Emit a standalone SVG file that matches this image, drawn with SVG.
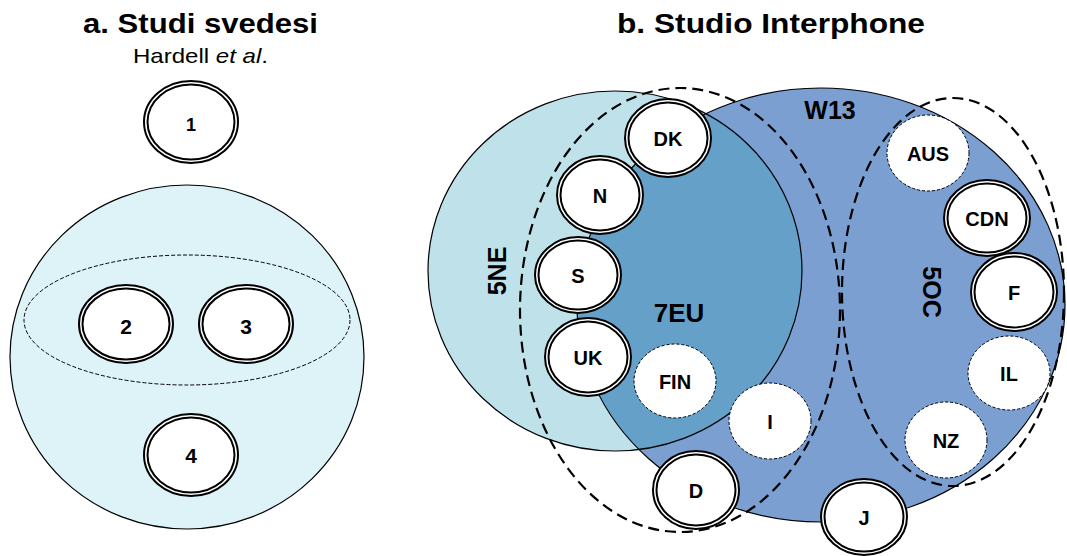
<svg xmlns="http://www.w3.org/2000/svg" width="1067" height="556" viewBox="0 0 1067 556">
<style>
text{font-family:"Liberation Sans",Arial,sans-serif;fill:#000}
.title{font-size:28px;font-weight:bold;text-anchor:middle}
.sub{font-size:21px;text-anchor:middle}
.lbl{font-size:20px;font-weight:bold;text-anchor:middle}
.num{font-size:21px;font-weight:bold;text-anchor:middle}
.grp{font-size:25px;font-weight:bold;text-anchor:middle}
.ring-o{fill:#fff;stroke:#000;stroke-width:2}
.ring-i{fill:none;stroke:#000;stroke-width:2}
.dnode{fill:#fff;stroke:#000;stroke-width:1;stroke-dasharray:3 2}
.region{stroke:#000;stroke-width:1.2}
.bigdash{fill:none;stroke:#000;stroke-width:2.2;stroke-dasharray:11 6}
</style>
<defs>
<clipPath id="clip5ne"><ellipse cx="615" cy="271" rx="187" ry="180"/></clipPath>
</defs>

<text class="title" x="200.5" y="33" textLength="235" lengthAdjust="spacingAndGlyphs">a. Studi svedesi</text>
<text class="sub" x="200.5" y="63" textLength="135" lengthAdjust="spacingAndGlyphs">Hardell <tspan font-style="italic">et al</tspan>.</text>
<text class="title" x="771" y="33" textLength="308" lengthAdjust="spacingAndGlyphs">b. Studio Interphone</text>

<!-- Panel a -->
<g id="group-a">
<ellipse cx="187" cy="357" rx="177" ry="172" fill="#DDF3F8" class="region"/>
<ellipse cx="187" cy="320" rx="163" ry="65" fill="none" stroke="#000" stroke-width="1" stroke-dasharray="4 2"/>
</g>
<g id="node-1"><ellipse class="ring-o" cx="191" cy="122" rx="47" ry="41"/><ellipse class="ring-i" cx="191" cy="122" rx="43.5" ry="37.5"/><text class="lbl" x="191" y="131" style="font-size:18px">1</text></g>
<g id="node-2"><ellipse class="ring-o" cx="126" cy="324" rx="47" ry="39"/><ellipse class="ring-i" cx="126" cy="324" rx="43.5" ry="35.5"/><text class="num" x="126" y="334">2</text></g>
<g id="node-3"><ellipse class="ring-o" cx="246" cy="324" rx="47" ry="39"/><ellipse class="ring-i" cx="246" cy="324" rx="43.5" ry="35.5"/><text class="num" x="246" y="334">3</text></g>
<g id="node-4"><ellipse class="ring-o" cx="191" cy="455" rx="47" ry="41"/><ellipse class="ring-i" cx="191" cy="455" rx="43.5" ry="37.5"/><text class="num" x="191" y="463">4</text></g>

<!-- Panel b regions -->
<g id="regions-b">
<ellipse cx="615" cy="271" rx="187" ry="180" fill="#BFE2EA"/>
<ellipse cx="821" cy="305" rx="244" ry="217" fill="#7B9FD0"/>
<ellipse cx="821" cy="305" rx="244" ry="217" fill="#64A0C8" clip-path="url(#clip5ne)"/>
<ellipse cx="615" cy="271" rx="187" ry="180" fill="none" class="region"/>
<ellipse cx="821" cy="305" rx="244" ry="217" fill="none" class="region"/>
<ellipse class="bigdash" cx="680" cy="310" rx="160" ry="222"/>
<ellipse class="bigdash" cx="953" cy="292" rx="111" ry="194"/>
<text class="grp" x="830" y="119">W13</text>
<text class="grp" x="679" y="322" style="font-size:26px">7EU</text>
<text class="grp" transform="translate(497,271) rotate(-90)" x="0" y="9">5NE</text>
<text class="grp" transform="translate(932,292) rotate(90)" x="0" y="9">5OC</text>
</g>

<!-- Panel b nodes -->
<g id="node-DK"><ellipse class="ring-o" cx="668" cy="138" rx="43" ry="39"/><ellipse class="ring-i" cx="668" cy="138" rx="39.5" ry="35.5"/><text class="lbl" x="668" y="146">DK</text></g>
<g id="node-N"><ellipse class="ring-o" cx="600" cy="195" rx="43" ry="39"/><ellipse class="ring-i" cx="600" cy="195" rx="39.5" ry="35.5"/><text class="lbl" x="600" y="203">N</text></g>
<g id="node-S"><ellipse class="ring-o" cx="578" cy="275" rx="43" ry="38"/><ellipse class="ring-i" cx="578" cy="275" rx="39.5" ry="34.5"/><text class="lbl" x="578" y="283">S</text></g>
<g id="node-UK"><ellipse class="ring-o" cx="588" cy="357" rx="43" ry="39"/><ellipse class="ring-i" cx="588" cy="357" rx="39.5" ry="35.5"/><text class="lbl" x="588" y="365">UK</text></g>
<g id="node-FIN"><ellipse class="dnode" cx="675" cy="381" rx="41" ry="37"/><text class="lbl" x="675" y="389">FIN</text></g>
<g id="node-I"><ellipse class="dnode" cx="770" cy="421" rx="41" ry="38"/><text class="lbl" x="770" y="429">I</text></g>
<g id="node-D"><ellipse class="ring-o" cx="696" cy="490" rx="43" ry="39"/><ellipse class="ring-i" cx="696" cy="490" rx="39.5" ry="35.5"/><text class="lbl" x="696" y="498">D</text></g>
<g id="node-J"><ellipse class="ring-o" cx="864" cy="517" rx="43" ry="38"/><ellipse class="ring-i" cx="864" cy="517" rx="39.5" ry="34.5"/><text class="lbl" x="864" y="525">J</text></g>
<g id="node-AUS"><ellipse class="dnode" cx="928" cy="153" rx="41" ry="38"/><text class="lbl" x="928" y="161">AUS</text></g>
<g id="node-CDN"><ellipse class="ring-o" cx="987" cy="218" rx="43" ry="38"/><ellipse class="ring-i" cx="987" cy="218" rx="39.5" ry="34.5"/><text class="lbl" x="987" y="226">CDN</text></g>
<g id="node-F"><ellipse class="ring-o" cx="1014" cy="292" rx="43" ry="39"/><ellipse class="ring-i" cx="1014" cy="292" rx="39.5" ry="35.5"/><text class="lbl" x="1014" y="300">F</text></g>
<g id="node-IL"><ellipse class="dnode" cx="1009" cy="373" rx="41" ry="37"/><text class="lbl" x="1009" y="381">IL</text></g>
<g id="node-NZ"><ellipse class="dnode" cx="946" cy="440" rx="41" ry="38"/><text class="lbl" x="946" y="448">NZ</text></g>
</svg>
